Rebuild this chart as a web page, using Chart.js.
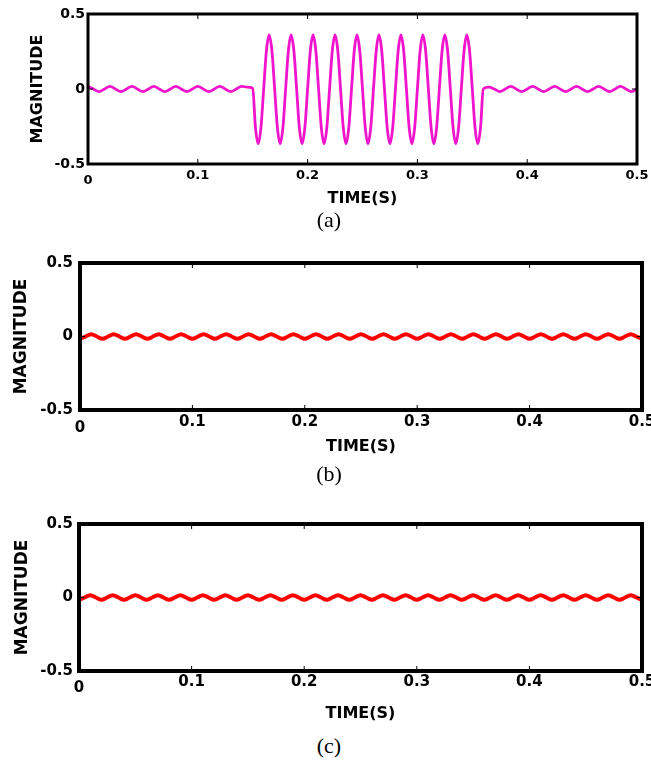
<!DOCTYPE html>
<html>
<head>
<meta charset="utf-8">
<script src="https://cdn.jsdelivr.net/npm/chart.js@4.4.0/dist/chart.umd.min.js"></script>
<style>
  body { margin: 0; background: #fff; width: 651px; height: 760px; position: relative; overflow: hidden; }
  canvas { position: absolute; left: 0; }
  .cap { position: absolute; left: 0; width: 658px; text-align: center; font-family: 'Liberation Serif', serif; font-size: 22px; line-height: 26px; color: #000; }
</style>
</head>
<body>
<canvas id="chartA" width="651" height="230" style="top:0px"></canvas>
<canvas id="chartB" width="651" height="230" style="top:240px"></canvas>
<canvas id="chartC" width="651" height="232" style="top:500px"></canvas>
<div class="cap" style="top:207px">(a)</div>
<div class="cap" style="top:461px">(b)</div>
<div class="cap" style="top:733px">(c)</div>
<script>
// sample times for (a), finer inside the burst (s)
const timeA = [
  0, 0.005, 0.01, 0.015, 0.02, 0.025, 0.03, 0.035, 0.04, 0.045,
  0.05, 0.055, 0.06, 0.065, 0.07, 0.075, 0.08, 0.085, 0.09, 0.095,
  0.1, 0.105, 0.11, 0.115, 0.12, 0.125, 0.13, 0.135, 0.14, 0.145,
  0.15, 0.1525, 0.155, 0.1575, 0.16, 0.1625, 0.165, 0.1675, 0.17, 0.1725,
  0.175, 0.1775, 0.18, 0.1825, 0.185, 0.1875, 0.19, 0.1925, 0.195, 0.1975,
  0.2, 0.2025, 0.205, 0.2075, 0.21, 0.2125, 0.215, 0.2175, 0.22, 0.2225,
  0.225, 0.2275, 0.23, 0.2325, 0.235, 0.2375, 0.24, 0.2425, 0.245, 0.2475,
  0.25, 0.2525, 0.255, 0.2575, 0.26, 0.2625, 0.265, 0.2675, 0.27, 0.2725,
  0.275, 0.2775, 0.28, 0.2825, 0.285, 0.2875, 0.29, 0.2925, 0.295, 0.2975,
  0.3, 0.3025, 0.305, 0.3075, 0.31, 0.3125, 0.315, 0.3175, 0.32, 0.3225,
  0.325, 0.3275, 0.33, 0.3325, 0.335, 0.3375, 0.34, 0.3425, 0.345, 0.3475,
  0.35, 0.3525, 0.355, 0.3575, 0.36,
  0.365, 0.37, 0.375, 0.38, 0.385, 0.39, 0.395,
  0.4, 0.405, 0.41, 0.415, 0.42, 0.425, 0.43, 0.435, 0.44, 0.445,
  0.45, 0.455, 0.46, 0.465, 0.47, 0.475, 0.48, 0.485, 0.49, 0.495,
  0.5
];

// (a) magnitude
const magA = [
  0.018, 0, -0.018, 0, 0.018, 0, -0.018, 0, 0.018, 0,
  -0.018, 0, 0.018, 0, -0.018, 0, 0.018, 0, -0.018, 0,
  0.018, 0, -0.018, 0, 0.018, 0, -0.018, 0, 0.018, 0.012,
  0.005,
  -0.258, -0.365, -0.258, 0, 0.255, 0.36, 0.255, 0,
  -0.258, -0.365, -0.258, 0, 0.255, 0.36, 0.255, 0,
  -0.258, -0.365, -0.258, 0, 0.255, 0.36, 0.255, 0,
  -0.258, -0.365, -0.258, 0, 0.255, 0.36, 0.255, 0,
  -0.258, -0.365, -0.258, 0, 0.255, 0.36, 0.255, 0,
  -0.258, -0.365, -0.258, 0, 0.255, 0.36, 0.255, 0,
  -0.258, -0.365, -0.258, 0, 0.255, 0.36, 0.255, 0,
  -0.258, -0.365, -0.258, 0, 0.255, 0.36, 0.255, 0,
  -0.258, -0.365, -0.258, 0, 0.255, 0.36, 0.255, 0,
  -0.258, -0.365, -0.258, 0, 0.255, 0.36, 0.255, 0,
  -0.258, -0.365, -0.258, 0,
  0.012, 0, -0.018, 0, 0.018, 0, -0.018,
  0, 0.018, 0, -0.018, 0, 0.018, 0, -0.018, 0, 0.018,
  0, -0.018, 0, 0.018, 0, -0.018, 0, 0.018, 0, -0.018,
  0
];

// sample times for (b) and (c) (s)
const timeBC = [
  0, 0.005, 0.01, 0.015, 0.02, 0.025, 0.03, 0.035, 0.04, 0.045,
  0.05, 0.055, 0.06, 0.065, 0.07, 0.075, 0.08, 0.085, 0.09, 0.095,
  0.1, 0.105, 0.11, 0.115, 0.12, 0.125, 0.13, 0.135, 0.14, 0.145,
  0.15, 0.155, 0.16, 0.165, 0.17, 0.175, 0.18, 0.185, 0.19, 0.195,
  0.2, 0.205, 0.21, 0.215, 0.22, 0.225, 0.23, 0.235, 0.24, 0.245,
  0.25, 0.255, 0.26, 0.265, 0.27, 0.275, 0.28, 0.285, 0.29, 0.295,
  0.3, 0.305, 0.31, 0.315, 0.32, 0.325, 0.33, 0.335, 0.34, 0.345,
  0.35, 0.355, 0.36, 0.365, 0.37, 0.375, 0.38, 0.385, 0.39, 0.395,
  0.4, 0.405, 0.41, 0.415, 0.42, 0.425, 0.43, 0.435, 0.44, 0.445,
  0.45, 0.455, 0.46, 0.465, 0.47, 0.475, 0.48, 0.485, 0.49, 0.495,
  0.5
];

// (b) magnitude
const magB = [
  -0.015, 0, 0.015, 0, -0.015, 0, 0.015, 0, -0.015, 0,
  0.015, 0, -0.015, 0, 0.015, 0, -0.015, 0, 0.015, 0,
  -0.015, 0, 0.015, 0, -0.015, 0, 0.015, 0, -0.015, 0,
  0.015, 0, -0.015, 0, 0.015, 0, -0.015, 0, 0.015, 0,
  -0.015, 0, 0.015, 0, -0.015, 0, 0.015, 0, -0.015, 0,
  0.015, 0, -0.015, 0, 0.015, 0, -0.015, 0, 0.015, 0,
  -0.015, 0, 0.015, 0, -0.015, 0, 0.015, 0, -0.015, 0,
  0.015, 0, -0.015, 0, 0.015, 0, -0.015, 0, 0.015, 0,
  -0.015, 0, 0.015, 0, -0.015, 0, 0.015, 0, -0.015, 0,
  0.015, 0, -0.015, 0, 0.015, 0, -0.015, 0, 0.015, 0,
  -0.015
];

// (c) magnitude
const magC = [
  -0.016, 0, 0.016, 0, -0.016, 0, 0.016, 0, -0.016, 0,
  0.016, 0, -0.016, 0, 0.016, 0, -0.016, 0, 0.016, 0,
  -0.016, 0, 0.016, 0, -0.016, 0, 0.016, 0, -0.016, 0,
  0.016, 0, -0.016, 0, 0.016, 0, -0.016, 0, 0.016, 0,
  -0.016, 0, 0.016, 0, -0.016, 0, 0.016, 0, -0.016, 0,
  0.016, 0, -0.016, 0, 0.016, 0, -0.016, 0, 0.016, 0,
  -0.016, 0, 0.016, 0, -0.016, 0, 0.016, 0, -0.016, 0,
  0.016, 0, -0.016, 0, 0.016, 0, -0.016, 0, 0.016, 0,
  -0.016, 0, 0.016, 0, -0.016, 0, 0.016, 0, -0.016, 0,
  0.016, 0, -0.016, 0, 0.016, 0, -0.016, 0, 0.016, 0,
  -0.016
];

const timeTicks = [0, 0.1, 0.2, 0.3, 0.4, 0.5];
const magTicks = [-0.5, 0, 0.5];

// black box round the plot + little inner ticks
const framePlugin = {
  id: 'frame',
  afterDatasetsDraw(chart, args, opts) {
    const { ctx, chartArea: a, scales } = chart;
    ctx.save();
    ctx.strokeStyle = '#000';
    ctx.lineWidth = 1;
    ctx.beginPath();
    timeTicks.forEach(v => {
      const px = scales.x.getPixelForValue(v);
      ctx.moveTo(px, a.top); ctx.lineTo(px, a.top + 5);
      ctx.moveTo(px, a.bottom); ctx.lineTo(px, a.bottom - 5);
    });
    magTicks.forEach(v => {
      const py = scales.y.getPixelForValue(v);
      ctx.moveTo(a.left, py); ctx.lineTo(a.left + 5, py);
      ctx.moveTo(a.right, py); ctx.lineTo(a.right - 5, py);
    });
    ctx.stroke();
    ctx.lineWidth = opts.width;
    ctx.strokeRect(a.left, a.top, a.right - a.left, a.bottom - a.top);
    ctx.restore();
  }
};

const fmt = v => String(+Number(v).toFixed(2));

function makeChart(id, times, values, c) {
  return new Chart(document.getElementById(id), {
    type: 'line',
    data: {
      datasets: [{
        data: times.map((t, i) => ({ x: t, y: values[i] })),
        borderColor: c.color,
        borderWidth: c.lineWidth,
        pointRadius: 0,
        cubicInterpolationMode: 'monotone',
        fill: false
      }]
    },
    plugins: [framePlugin],
    options: {
      responsive: false,
      animation: false,
      devicePixelRatio: 1,
      layout: { padding: { left: 0, right: c.padRight, top: c.padTop, bottom: 0 } },
      plugins: {
        legend: { display: false },
        tooltip: { enabled: false },
        frame: { width: c.frameWidth }
      },
      scales: {
        x: {
          type: 'linear', min: 0, max: 0.5,
          afterBuildTicks: s => { s.ticks = timeTicks.map(v => ({ value: v })); },
          afterFit: s => { s.height = c.xAxisHeight; s.paddingLeft = 0; s.paddingRight = 0; },
          grid: { display: false, drawTicks: false },
          border: { display: false },
          ticks: {
            padding: c.xTickPad, maxRotation: 0, autoSkip: false, color: '#000',
            font: ctx => ({ family: 'DejaVu Sans', weight: 'bold', size: c.xTickSize,
              lineHeight: ctx.tick && ctx.tick.value === 0 ? c.zeroLine : 1.2 }),
            callback: fmt
          },
          title: {
            display: true, text: 'TIME(S)', color: '#000',
            font: { family: 'DejaVu Sans', weight: 'bold', size: c.xTitleSize },
            padding: { top: 0, bottom: c.xTitlePad }
          }
        },
        y: {
          type: 'linear', min: -0.5, max: 0.5,
          afterBuildTicks: s => { s.ticks = magTicks.map(v => ({ value: v })); },
          afterFit: s => { s.width = c.yAxisWidth; s.paddingTop = 0; s.paddingBottom = 0; },
          grid: { display: false, drawTicks: false },
          border: { display: false },
          ticks: {
            padding: c.yTickPad, color: '#000',
            font: { family: 'DejaVu Sans', weight: 'bold', size: c.yTickSize },
            callback: fmt
          },
          title: {
            display: true, text: 'MAGNITUDE', color: '#000',
            font: { family: 'DejaVu Sans', weight: 'bold', size: c.yTitleSize },
            padding: { top: c.yTitlePad, bottom: 0 }
          }
        }
      }
    }
  });
}

makeChart('chartA', timeA, magA, {
  color: '#f014cc', lineWidth: 2.8, frameWidth: 3,
  padTop: 14, padRight: 14, yAxisWidth: 88, xAxisHeight: 66,
  xTickPad: 4, xTickSize: 13, zeroLine: 1.9, xTitleSize: 16, xTitlePad: 22,
  yTickPad: 3, yTickSize: 14, yTitleSize: 16, yTitlePad: 28
});

makeChart('chartB', timeBC, magB, {
  color: '#ff0000', lineWidth: 4, frameWidth: 4,
  padTop: 23, padRight: 9, yAxisWidth: 80, xAxisHeight: 60,
  xTickPad: 3, xTickSize: 15, zeroLine: 2, xTitleSize: 16, xTitlePad: 13.4,
  yTickPad: 7, yTickSize: 15, yTitleSize: 17, yTitlePad: 11.8
});

makeChart('chartC', timeBC, magC, {
  color: '#ff0000', lineWidth: 4, frameWidth: 4,
  padTop: 24, padRight: 9, yAxisWidth: 79, xAxisHeight: 61,
  xTickPad: 2, xTickSize: 15, zeroLine: 2, xTitleSize: 16, xTitlePad: 8.4,
  yTickPad: 6, yTickSize: 15, yTitleSize: 17, yTitlePad: 12
});
</script>
</body>
</html>
